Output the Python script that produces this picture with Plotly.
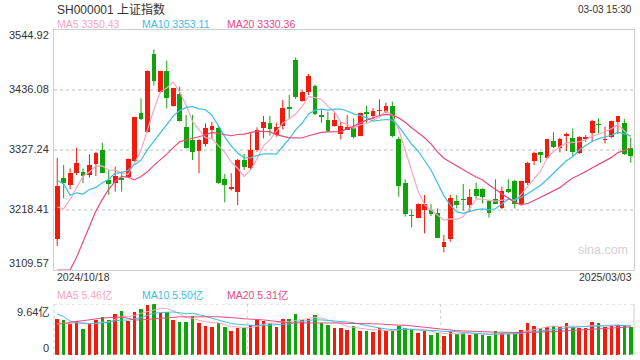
import numpy as np
import pandas as pd
import plotly.graph_objects as go

# ---------------- data ----------------
title = "SH000001 上证指数"
stamp_time = "15:30"

dates = [
    "2024-10-18", "2024-10-21", "2024-10-22", "2024-10-23", "2024-10-24", "2024-10-25", "2024-10-28", "2024-10-29", "2024-10-30", "2024-10-31",
    "2024-11-01", "2024-11-04", "2024-11-05", "2024-11-06", "2024-11-07", "2024-11-08", "2024-11-11", "2024-11-12", "2024-11-13", "2024-11-14",
    "2024-11-15", "2024-11-18", "2024-11-19", "2024-11-20", "2024-11-21", "2024-11-22", "2024-11-25", "2024-11-26", "2024-11-27", "2024-11-28",
    "2024-11-29", "2024-12-02", "2024-12-03", "2024-12-04", "2024-12-05", "2024-12-06", "2024-12-09", "2024-12-10", "2024-12-11", "2024-12-12",
    "2024-12-13", "2024-12-16", "2024-12-17", "2024-12-18", "2024-12-19", "2024-12-20", "2024-12-23", "2024-12-24", "2024-12-25", "2024-12-26",
    "2024-12-27", "2024-12-30", "2024-12-31", "2025-01-02", "2025-01-03", "2025-01-06", "2025-01-07", "2025-01-08", "2025-01-09", "2025-01-10",
    "2025-01-13", "2025-01-14", "2025-01-15", "2025-01-16", "2025-01-17", "2025-01-20", "2025-01-21", "2025-01-22", "2025-01-23", "2025-01-24",
    "2025-01-27", "2025-02-05", "2025-02-06", "2025-02-07", "2025-02-10", "2025-02-11", "2025-02-12", "2025-02-13", "2025-02-14", "2025-02-17",
    "2025-02-18", "2025-02-19", "2025-02-20", "2025-02-21", "2025-02-24", "2025-02-25", "2025-02-26", "2025-02-27", "2025-02-28", "2025-03-03",
]

open_ = [
    3166.0, 3277.0, 3264.0, 3286.0, 3287.0, 3282.0, 3301.0, 3327.0, 3273.0, 3268.0,
    3277.0, 3279.0, 3308.0, 3394.0, 3360.5, 3501.4, 3433.0, 3470.5, 3407.6, 3428.8,
    3368.4, 3345.4, 3326.0, 3338.1, 3363.5, 3366.5, 3274.0, 3257.0, 3251.7, 3309.0,
    3295.0, 3327.2, 3366.5, 3375.6, 3354.4, 3370.8, 3404.5, 3490.5, 3416.7, 3433.0,
    3443.3, 3390.7, 3381.7, 3370.8, 3356.3, 3364.0, 3366.5, 3353.2, 3395.5, 3388.9,
    3398.0, 3396.8, 3407.0, 3347.2, 3266.8, 3209.3, 3204.5, 3218.4, 3218.4, 3212.4,
    3150.7, 3165.8, 3234.7, 3237.8, 3227.5, 3256.5, 3256.5, 3234.7, 3237.8, 3222.6,
    3256.5, 3271.0, 3228.7, 3266.8, 3307.9, 3323.0, 3313.3, 3343.6, 3330.3, 3353.3,
    3348.4, 3321.2, 3348.0, 3357.5, 3375.0, 3345.0, 3351.4, 3378.6, 3375.6, 3330.3,
]
high = [
    3313.0, 3300.0, 3294.0, 3331.5, 3294.0, 3319.4, 3323.5, 3340.5, 3291.0, 3297.0,
    3288.0, 3312.0, 3387.5, 3421.0, 3472.0, 3509.8, 3471.0, 3489.3, 3440.0, 3442.0,
    3390.7, 3390.7, 3347.0, 3375.6, 3378.6, 3372.6, 3284.0, 3285.0, 3311.0, 3320.0,
    3357.5, 3368.4, 3388.9, 3388.9, 3376.8, 3418.0, 3427.0, 3495.3, 3436.1, 3465.1,
    3446.0, 3401.6, 3396.8, 3396.8, 3378.6, 3390.7, 3384.7, 3395.0, 3407.0, 3402.8,
    3419.2, 3413.1, 3414.9, 3351.4, 3274.0, 3219.6, 3230.5, 3245.6, 3228.7, 3221.4,
    3173.0, 3245.6, 3245.6, 3265.6, 3256.5, 3268.0, 3257.7, 3237.0, 3274.0, 3260.7,
    3274.0, 3273.0, 3271.8, 3306.1, 3324.2, 3324.2, 3347.2, 3359.3, 3349.6, 3358.7,
    3366.5, 3352.6, 3354.4, 3381.7, 3384.7, 3369.6, 3380.5, 3389.0, 3383.5, 3349.6,
]
low = [
    3153.0, 3239.6, 3256.0, 3282.0, 3266.8, 3277.0, 3280.0, 3285.0, 3245.6, 3251.7,
    3251.7, 3276.0, 3306.0, 3381.7, 3359.0, 3444.0, 3431.0, 3402.8, 3406.0, 3378.7,
    3330.0, 3309.1, 3285.0, 3333.3, 3348.4, 3265.6, 3232.3, 3253.5, 3227.5, 3291.0,
    3292.0, 3324.0, 3348.4, 3353.2, 3351.4, 3364.7, 3384.7, 3420.0, 3414.9, 3427.0,
    3390.0, 3376.8, 3360.0, 3369.6, 3346.6, 3363.5, 3348.4, 3352.0, 3376.8, 3382.9,
    3388.9, 3393.8, 3350.0, 3242.6, 3206.3, 3186.4, 3203.3, 3176.1, 3207.5, 3168.0,
    3141.6, 3161.0, 3221.4, 3217.2, 3217.2, 3239.6, 3230.5, 3204.5, 3229.3, 3220.0,
    3249.0, 3221.0, 3226.3, 3263.8, 3300.0, 3304.3, 3312.1, 3331.0, 3323.0, 3325.4,
    3316.4, 3320.0, 3342.4, 3342.4, 3357.5, 3339.3, 3349.6, 3356.3, 3318.2, 3304.3,
]
close = [
    3261.56, 3268.11, 3285.87, 3302.80, 3280.26, 3299.70, 3322.20, 3286.41, 3266.24, 3279.82,
    3272.01, 3310.21, 3386.99, 3383.81, 3470.66, 3452.30, 3470.07, 3421.97, 3439.28, 3379.84,
    3330.73, 3323.85, 3346.01, 3367.99, 3370.40, 3267.19, 3263.76, 3259.76, 3309.78, 3295.70,
    3326.46, 3363.98, 3378.81, 3364.65, 3368.86, 3404.08, 3402.53, 3422.66, 3432.49, 3461.50,
    3391.88, 3386.33, 3361.49, 3382.21, 3370.03, 3368.07, 3351.26, 3393.53, 3393.35, 3398.08,
    3400.14, 3407.33, 3351.76, 3262.56, 3211.43, 3206.92, 3229.64, 3230.17, 3211.39, 3168.52,
    3160.76, 3240.94, 3227.12, 3236.03, 3241.82, 3244.38, 3242.62, 3213.62, 3230.16, 3252.63,
    3250.60, 3229.49, 3270.66, 3303.67, 3322.17, 3318.06, 3346.39, 3332.48, 3346.72, 3355.83,
    3324.49, 3351.54, 3350.78, 3379.11, 3373.03, 3346.04, 3380.21, 3388.06, 3320.90, 3316.93,
]
# volume, 亿
volume = [
    6.8, 6.6, 5.8, 6.4, 5.0, 5.9, 6.6, 7.1, 6.6, 7.75,
    8.3, 6.5, 8.2, 8.7, 9.45, 9.64, 8.0, 8.2, 6.6, 6.3,
    6.3, 7.37, 6.1, 5.5, 5.35, 6.1, 5.35, 4.54, 5.17, 5.17,
    5.67, 6.6, 6.5, 6.0, 5.35, 6.8, 6.8, 7.75, 6.6, 6.8,
    7.56, 6.1, 5.67, 5.17, 5.17, 4.73, 5.48, 4.54, 4.54, 4.35,
    5.04, 4.54, 4.54, 5.48, 5.04, 4.85, 4.2, 4.54, 3.78, 4.1,
    3.6, 4.4, 4.0, 4.1, 3.78, 4.1, 3.78, 3.6, 4.54, 4.1,
    3.9, 4.1, 4.7, 6.0, 5.5, 5.1, 5.2, 5.5, 5.3, 6.0,
    5.3, 5.1, 5.1, 6.2, 6.0, 5.3, 5.5, 5.7, 5.6, 5.2,
]
# sessions before the window (only feed the moving averages)
hist_close = [2717.12, 2704.09, 2717.28, 2736.02, 2736.81, 2748.92, 2863.13, 2896.31, 3000.95, 3087.53,
              3336.50, 3489.78, 3258.86, 3301.93, 3217.74, 3284.32, 3201.29, 3202.95, 3169.38]
hist_volume = [2.2, 2.3, 2.4, 2.6, 2.4, 2.6, 4.5, 5.4, 6.0, 7.5,
               11.5, 14.5, 8.5, 7.5, 6.2, 6.0, 6.1, 5.4, 5.0]

price_ticks = ["3544.92", "3436.08", "3327.24", "3218.41", "3109.57"]
vol_ticks = ["9.64亿", "0"]
ma_periods = [5, 10, 20]

# ---------------- styling ----------------
W, H = 640, 360
UP, DOWN = "#f21c0c", "#10a30c"
MA_COLORS = ["#f7a6c2", "#3cc0e4", "#ea4a7e"]
FONT = "Arial, 'Liberation Sans', 'Noto Sans CJK SC', sans-serif"
GRID = "#dedede"
BORDER = "#cfcfcf"
X0, X1 = 54, 634           # plot left/right (px)
PT, PB = 30, 270           # price panel top/bottom (px)
VT, VB = 304, 355          # volume panel top/bottom (px)


def fx(p):
    return p / W


def fy(p):
    return 1 - p / H


n = len(dates)
o = np.array(open_)
c = np.array(close)
hi = np.array(high)
lo = np.array(low)
vol = np.array(volume)
up = c >= o

pmax = float(price_ticks[0])
pmin = float(price_ticks[-1])
vmax = float(vol_ticks[0].replace("亿", ""))

full_c = pd.Series(hist_close + close)
full_v = pd.Series(hist_volume + volume)
price_ma = [full_c.rolling(k).mean().values[-n:] for k in ma_periods]
vol_ma = [full_v.rolling(k).mean().values[-n:] for k in ma_periods]

fig = go.Figure()

# wicks
for mask, col in [(up, UP), (~up, DOWN)]:
    xs, ys = [], []
    for i in np.where(mask)[0]:
        xs += [dates[i], dates[i], None]
        ys += [lo[i], hi[i], None]
    fig.add_trace(go.Scatter(x=xs, y=ys, mode="lines", line=dict(color=col, width=1),
                             xaxis="x", yaxis="y", hoverinfo="skip", showlegend=False))

# bodies
min_body = (pmax - pmin) / (PB - PT) * 1.2
for mask, col in [(up, UP), (~up, DOWN)]:
    idx = np.where(mask)[0]
    base = np.minimum(o[idx], c[idx])
    hgt = np.maximum(np.abs(c[idx] - o[idx]), min_body)
    fig.add_trace(go.Bar(x=[dates[i] for i in idx], y=hgt, base=base, width=0.74,
                         marker=dict(color=col, line=dict(width=0)),
                         xaxis="x", yaxis="y", hoverinfo="skip", showlegend=False))

# price moving averages (values under the axis floor ride along the bottom edge)
for k, ma, col in zip(ma_periods, price_ma, MA_COLORS):
    yv = np.maximum(ma, pmin) if k == 20 else ma
    fig.add_trace(go.Scatter(x=dates, y=yv, mode="lines", line=dict(color=col, width=1.2),
                             xaxis="x", yaxis="y", hoverinfo="skip", showlegend=False))

# volume bars
fig.add_trace(go.Bar(x=dates, y=vol, width=0.55,
                     marker=dict(color=[UP if u else DOWN for u in up], line=dict(width=0)),
                     xaxis="x2", yaxis="y2", hoverinfo="skip", showlegend=False))
for k, ma, col in zip(ma_periods, vol_ma, MA_COLORS):
    fig.add_trace(go.Scatter(x=dates, y=ma, mode="lines", line=dict(color=col, width=1),
                             xaxis="x2", yaxis="y2", hoverinfo="skip", showlegend=False))

xr = [-0.5, n - 0.5]
common_x = dict(type="category", categoryorder="array", categoryarray=dates, range=xr,
                showticklabels=False, showgrid=False,
                zeroline=False, fixedrange=True, domain=[fx(X0), fx(X1)])
fig.update_layout(
    width=W, height=H, margin=dict(l=0, r=0, t=0, b=0),
    paper_bgcolor="white", plot_bgcolor="white", barmode="overlay", bargap=0,
    showlegend=False, font=dict(family=FONT, color="#333"),
    xaxis=dict(**common_x, anchor="y", showline=True, mirror=True, linecolor=BORDER, linewidth=1),
    yaxis=dict(domain=[fy(PB), fy(PT)], range=[pmin, pmax], anchor="x",
               tickvals=[float(t) for t in price_ticks[1:-1]], showticklabels=False,
               showgrid=True, gridcolor=GRID, griddash="dot", gridwidth=2,
               zeroline=False, showline=True, mirror=True, linecolor=BORDER, linewidth=1,
               fixedrange=True),
    xaxis2=dict(**common_x, anchor="y2", showline=False),
    yaxis2=dict(domain=[fy(VB), fy(VT)], range=[0, vmax], anchor="x2", showticklabels=False,
                showgrid=False, zeroline=False, showline=False, fixedrange=True),
)

# volume panel frame and thirds
dot = dict(color=BORDER, width=1, dash="dot")
shapes = [
    dict(type="line", xref="x2 domain", yref="y2", x0=0, x1=1, y0=vmax, y1=vmax, line=dot),
    dict(type="line", xref="x2 domain", yref="y2", x0=0, x1=1, y0=0, y1=0, line=dot),
    dict(type="line", xref="x2 domain", yref="y2", x0=0, x1=0, y0=0, y1=vmax, line=dot),
    dict(type="line", xref="x2 domain", yref="y2", x0=1, x1=1, y0=0, y1=vmax,
         line=dict(color=BORDER, width=1)),
    dict(type="line", xref="x2 domain", yref="y2", x0=1 / 3, x1=1 / 3, y0=0, y1=vmax, line=dot),
    dict(type="line", xref="x2 domain", yref="y2", x0=2 / 3, x1=2 / 3, y0=0, y1=vmax, line=dot),
]
fig.update_layout(shapes=shapes)

ann = []


def text(x, y, s, size, color="#333", anchor="left"):
    ann.append(dict(x=fx(x), y=fy(y), xref="paper", yref="paper", text=s, showarrow=False,
                    xanchor=anchor, yanchor="middle", font=dict(size=size, color=color, family=FONT)))


text(55, 9, title, 12)
last = dates[-1]
text(634, 9, f"{last[5:]} {stamp_time}", 10, anchor="right")

leg_x = [55, 140, 225]
for k, ma, col, lx in zip(ma_periods, price_ma, MA_COLORS, leg_x):
    text(lx, 24, f"MA{k} {ma[-1]:.2f}", 10.5, col)
for k, ma, col, lx in zip(ma_periods, vol_ma, MA_COLORS, leg_x):
    text(lx, 295, f"MA{k} {ma[-1]:.2f}亿", 10.5, col)

# price tick labels
shifts = [-5] + [1] * (len(price_ticks) - 2) + [7]
for lab, sh in zip(price_ticks, shifts):
    ann.append(dict(x=fx(51), y=float(lab), xref="paper", yref="y", text=lab, showarrow=False,
                    xanchor="right", yanchor="middle", yshift=sh,
                    font=dict(size=11, color="#333", family=FONT)))
# volume tick labels
ann.append(dict(x=fx(51), y=vmax, xref="paper", yref="y2", text=vol_ticks[0], showarrow=False,
                xanchor="right", yanchor="middle", yshift=-8, font=dict(size=11, color="#333", family=FONT)))
ann.append(dict(x=fx(51), y=0, xref="paper", yref="y2", text=vol_ticks[1], showarrow=False,
                xanchor="right", yanchor="middle", yshift=7, font=dict(size=11, color="#333", family=FONT)))

# date labels
text(55, 277, dates[0].replace("-", "/"), 10.5)
text(634, 277, dates[-1].replace("-", "/"), 10.5, anchor="right")

# watermark
text(603, 250, "sina.com", 12.5, "#d2d2d2", anchor="center")

fig.update_layout(annotations=ann)
fig.write_html("out.html", config={"displayModeBar": False, "staticPlot": True},
               post_script="document.body.style.margin='0';document.body.style.padding='0';")
